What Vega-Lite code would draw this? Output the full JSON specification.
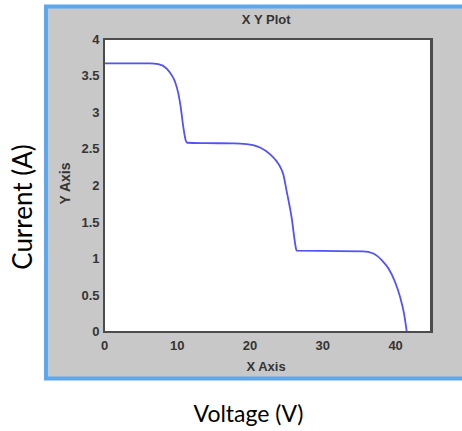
{
  "$schema": "https://vega.github.io/schema/vega-lite/v6.json",
  "width": 420,
  "height": 372,
  "autosize": {"type": "none"},
  "padding": {"left": 46, "top": 6.5, "right": -4, "bottom": 52.5},
  "background": "white",
  "config": {
    "view": {"fill": "#c8c8c8", "stroke": "#5aa8f0", "strokeWidth": 4},
    "axis": {"zindex": 1, "grid": false, "labelFont": "Liberation Sans", "labelFontSize": 13, "labelFontWeight": "bold", "labelColor": "#353535", "titleFont": "Liberation Sans", "titleFontSize": 13, "titleFontWeight": "bold", "titleColor": "#353535", "tickColor": "#555555", "tickWidth": 1.2, "labelFlush": false, "labelOverlap": false}
  },
  "data": {"values": [
    {"x": 0, "y": 3.67}, {"x": 3, "y": 3.67}, {"x": 6.3, "y": 3.67}, {"x": 7.46, "y": 3.66},
    {"x": 8.61, "y": 3.6}, {"x": 9.3, "y": 3.51}, {"x": 9.76, "y": 3.42}, {"x": 10.21, "y": 3.26},
    {"x": 10.53, "y": 3.08}, {"x": 10.9, "y": 2.8}, {"x": 11.22, "y": 2.62}, {"x": 11.45, "y": 2.585},
    {"x": 14, "y": 2.58}, {"x": 17.77, "y": 2.577}, {"x": 19.6, "y": 2.565}, {"x": 20.6, "y": 2.55},
    {"x": 21.43, "y": 2.52}, {"x": 22.8, "y": 2.43}, {"x": 23.73, "y": 2.33}, {"x": 24.18, "y": 2.26},
    {"x": 24.64, "y": 2.15}, {"x": 25.1, "y": 1.92}, {"x": 25.5, "y": 1.72}, {"x": 25.8, "y": 1.55},
    {"x": 26.1, "y": 1.32}, {"x": 26.3, "y": 1.18}, {"x": 26.47, "y": 1.108}, {"x": 30, "y": 1.105},
    {"x": 35.6, "y": 1.1}, {"x": 37.0, "y": 1.07}, {"x": 38.15, "y": 0.98}, {"x": 39.07, "y": 0.867},
    {"x": 39.98, "y": 0.684}, {"x": 40.67, "y": 0.48}, {"x": 41.22, "y": 0.25}, {"x": 41.6, "y": 0}
  ]},
  "layer": [
    {
      "mark": {"type": "rect", "fill": "white", "stroke": null},
      "encoding": {
        "x": {"datum": 0, "type": "quantitative", "scale": {"domain": [-7.969, 49.74], "nice": false, "zero": false},
          "axis": {"orient": "bottom", "offset": -46.8, "values": [0, 10, 20, 30, 40], "format": "d", "domain": false, "tickSize": -4, "labelPadding": 12, "title": "X Axis", "titleX": 219.5, "titleY": 34.3, "titleBaseline": "middle", "titleAlign": "center"}},
        "x2": {"datum": 45},
        "y": {"datum": 0, "type": "quantitative", "scale": {"domain": [-0.64, 4.449], "nice": false, "zero": false},
          "axis": {"orient": "left", "offset": -58, "values": [0, 0.5, 1, 1.5, 2, 2.5, 3, 3.5, 4], "format": ".1~f", "domain": false, "tickSize": -4, "labelPadding": 9, "title": "Y Axis", "titleX": -39, "titleY": 176.5, "titleBaseline": "middle", "titleAlign": "center", "titleFontSize": 14}},
        "y2": {"datum": 4}
      }
    },
    {
      "mark": {"type": "line", "interpolate": "monotone", "stroke": "#5252f7", "strokeWidth": 1.8},
      "encoding": {
        "x": {"field": "x", "type": "quantitative", "scale": {"domain": [-7.969, 49.74], "nice": false, "zero": false},
          "axis": {"orient": "top", "offset": -32.8, "values": [10, 20, 30, 40], "labels": false, "domain": false, "tickSize": -4, "title": "X Y Plot", "titleX": 219.7, "titleY": -19.8, "titleBaseline": "middle", "titleAlign": "center"}},
        "y": {"field": "y", "type": "quantitative", "scale": {"domain": [-0.64, 4.449], "nice": false, "zero": false},
          "axis": {"orient": "right", "offset": -34.3, "values": [0.5, 1, 1.5, 2, 2.5, 3, 3.5], "labels": false, "domain": false, "tickSize": -4, "title": null}}
      }
    },
    {
      "mark": {"type": "rect", "filled": false, "stroke": "#4d4d4d", "strokeWidth": 1.5},
      "encoding": {
        "x": {"datum": 0, "type": "quantitative", "scale": {"domain": [-7.969, 49.74], "nice": false, "zero": false},
          "axis": {"orient": "bottom", "offset": 0, "domain": false, "ticks": false, "labels": false, "title": "Voltage (V)", "titleFont": "Lato", "titleFontSize": 23, "titleFontWeight": "normal", "titleColor": "#000000", "titleX": 202, "titleY": 35.5, "titleBaseline": "middle", "titleAlign": "center"}},
        "x2": {"datum": 45},
        "y": {"datum": 0, "type": "quantitative", "scale": {"domain": [-0.64, 4.449], "nice": false, "zero": false},
          "axis": {"orient": "left", "offset": 0, "domain": false, "ticks": false, "labels": false, "title": "Current (A)", "titleFont": "Lato", "titleFontSize": 26, "titleFontWeight": "normal", "titleColor": "#000000", "titleX": -23, "titleY": 200, "titleBaseline": "middle", "titleAlign": "center"}},
        "y2": {"datum": 4}
      }
    }
  ],
  "resolve": {"axis": {"x": "independent", "y": "independent"}}
}
